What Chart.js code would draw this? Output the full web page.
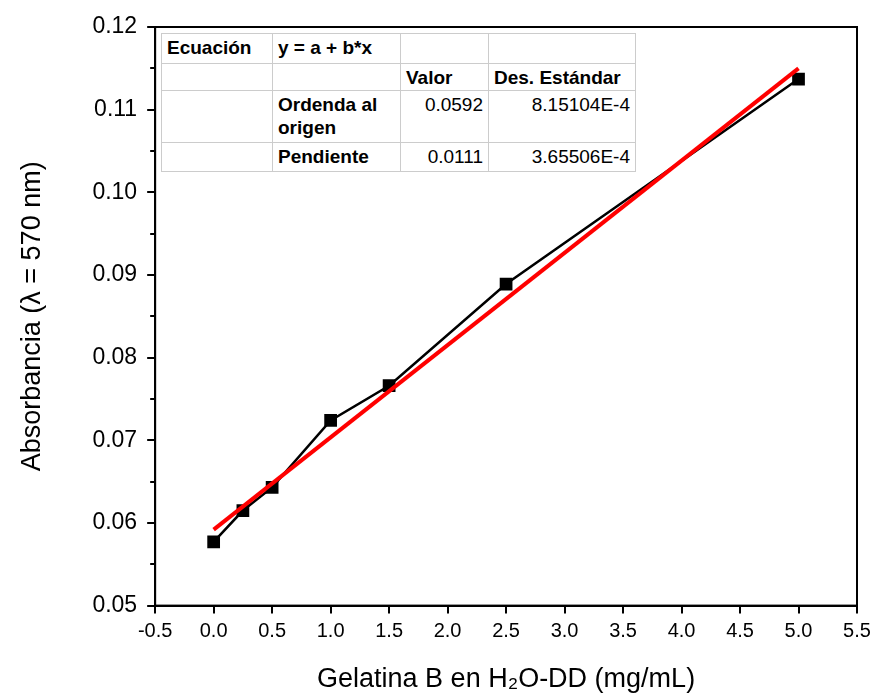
<!DOCTYPE html>
<html>
<head>
<meta charset="utf-8">
<script src="https://cdn.jsdelivr.net/npm/chart.js@4.4.0/dist/chart.umd.min.js"></script>
<style>
  body { margin: 0; background: #fff; }
  #wrap { position: relative; width: 878px; height: 700px; }
  #fitTable {
    position: absolute; left: 161px; top: 33px; width: 474px;
    border-collapse: collapse; table-layout: fixed; background: #fff;
    font-family: "Liberation Sans", Arial, sans-serif; font-size: 19px; color: #000;
    border: 1.5px solid #777;
  }
  #fitTable td { border: 1px solid #ccc; padding: 2px 5px 0 5px; line-height: 23px; vertical-align: top; font-weight: bold; white-space: nowrap; }
  #fitTable td.num { text-align: right; font-weight: normal; }
</style>
</head>
<body>
<div id="wrap">
  <canvas id="chartCalibration"></canvas>
  <table id="fitTable">
    <colgroup><col style="width:111px"><col style="width:128px"><col style="width:88px"><col style="width:147px"></colgroup>
    <tr style="height:30px"><td>Ecuación</td><td>y = a + b*x</td><td></td><td></td></tr>
    <tr style="height:27px"><td></td><td></td><td>Valor</td><td>Des. Estándar</td></tr>
    <tr style="height:52px"><td></td><td>Ordenda al<br>origen</td><td class="num">0.0592</td><td class="num">8.15104E-4</td></tr>
    <tr style="height:29px"><td></td><td>Pendiente</td><td class="num">0.0111</td><td class="num">3.65506E-4</td></tr>
  </table>
</div>
<script>
  /* Datos */
  const concentration = [0, 0.25, 0.5, 1.0, 1.5, 2.5, 5.0];
  const absorbance = [0.0577, 0.0615, 0.0643, 0.0724, 0.0766, 0.0889, 0.1137];
  const fitX = [0, 5.0];
  const fitY = [0.0592, 0.1150];
  const yMinorTicks = [0.055, 0.065, 0.075, 0.085, 0.095, 0.105, 0.115];

  const fontFamily = '"Liberation Sans", Arial, sans-serif';

  let points = concentration.map((x, i) => ({ x: x, y: absorbance[i] }));
  let fitLine = fitX.map((x, i) => ({ x: x, y: fitY[i] }));

  /* Marco y ticks menores */
  const frameAndMinor = {
    id: 'frameAndMinor',
    afterDraw(chart) {
      const ctx = chart.ctx;
      const a = chart.chartArea;
      const yScale = chart.scales.y;
      ctx.save();
      ctx.strokeStyle = '#000';
      ctx.lineWidth = 2;
      ctx.strokeRect(a.left, a.top, a.right - a.left, a.bottom - a.top);
      ctx.beginPath();
      yMinorTicks.forEach((v) => {
        let py = Math.round(yScale.getPixelForValue(v));
        ctx.moveTo(a.left, py);
        ctx.lineTo(a.left - 5, py);
      });
      ctx.stroke();
      ctx.restore();
    }
  };

  const cmc = document.getElementById('chartCalibration');
  const chartCalibration = new Chart(cmc, {
    type: 'scatter',
    plugins: [frameAndMinor],
    data: {
      datasets: [
        {
          data: points,
          showLine: true,
          borderColor: '#000',
          backgroundColor: '#000',
          borderWidth: 2.5,
          pointStyle: 'rect',
          pointRadius: 9,
          pointBorderWidth: 0,
          order: 2,
        },
        {
          data: fitLine,
          showLine: true,
          borderColor: '#ff0000',
          borderWidth: 4,
          pointRadius: 0,
          order: 1,
        },
      ],
    },
    options: {
      responsive: true,
      maintainAspectRatio: false,
      animation: false,
      layout: { padding: { left: 16, right: 21, top: 27, bottom: 4 } },
      plugins: {
        legend: { display: false },
        tooltip: { enabled: false },
      },
      scales: {
        x: {
          type: 'linear',
          min: -0.5,
          max: 5.5,
          border: { display: true, color: '#000', width: 2 },
          grid: { drawOnChartArea: false, drawTicks: true, tickLength: 8, color: '#000', lineWidth: 2 },
          ticks: {
            stepSize: 0.5,
            color: '#000',
            padding: 6,
            font: { family: fontFamily, size: 20 },
            callback: (value) => Number(value).toFixed(1),
          },
          title: {
            display: true,
            text: 'Gelatina B en H\u2082O-DD (mg/mL)',
            color: '#000',
            font: { family: fontFamily, size: 27 },
            padding: { top: 14, bottom: 0 },
          },
        },
        y: {
          type: 'linear',
          min: 0.05,
          max: 0.12,
          border: { display: true, color: '#000', width: 2 },
          grid: { drawOnChartArea: false, drawTicks: true, tickLength: 8, color: '#000', lineWidth: 2 },
          ticks: {
            stepSize: 0.01,
            color: '#000',
            padding: 10,
            font: { family: fontFamily, size: 23 },
            callback: (value) => Number(value).toFixed(2),
          },
          title: {
            display: true,
            text: 'Absorbancia (\u03bb = 570 nm)',
            color: '#000',
            font: { family: fontFamily, size: 27 },
            padding: { top: 0, bottom: 34 },
          },
        },
      },
    },
  });
</script>
</body>
</html>
